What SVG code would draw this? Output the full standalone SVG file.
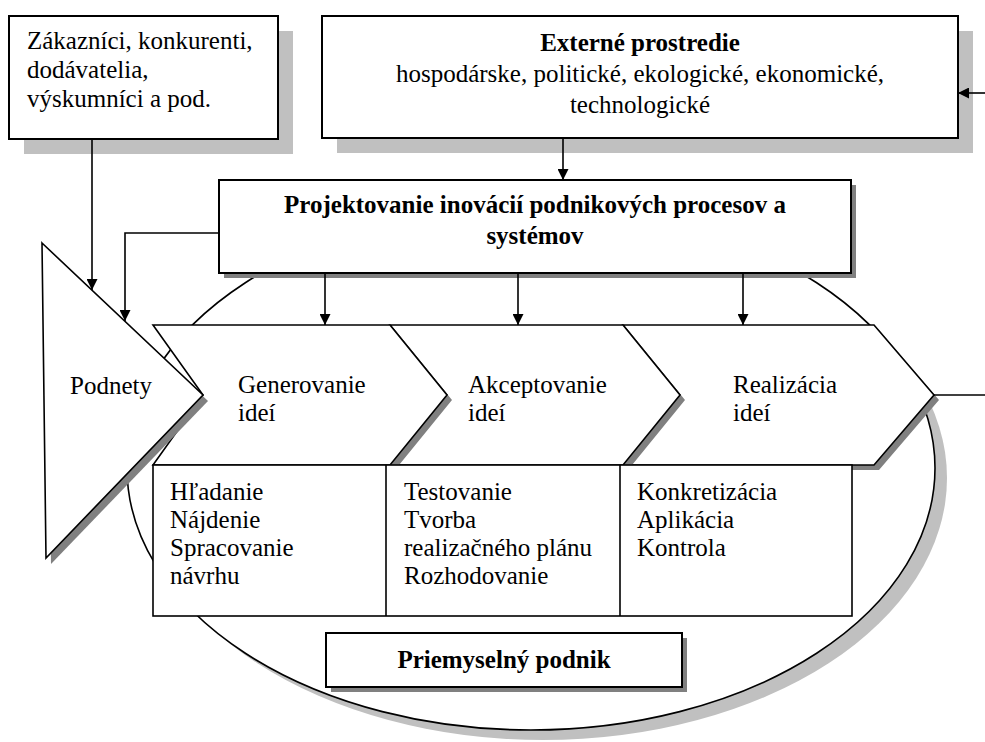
<svg xmlns="http://www.w3.org/2000/svg" width="985" height="742" viewBox="0 0 985 742">
  <style>
    .t { font-family: "Liberation Serif", "Times New Roman", serif; font-size: 25px; fill: #000; }
    .b { font-weight: bold; }
    .box { fill: #fff; stroke: #000; stroke-width: 2; }
    .thin { fill: #fff; stroke: #000; stroke-width: 1.6; }
    .shl { fill: #c0c0c0; }
    .shd { fill: #808080; }
    .ln { fill: none; stroke: #000; stroke-width: 1.6; }
  </style>
  <defs>
    <marker id="arr" viewBox="0 0 10 10" refX="10" refY="5" markerWidth="11" markerHeight="11" markerUnits="userSpaceOnUse" orient="auto">
      <path d="M0,0 L10,5 L0,10 z" fill="#000"/>
    </marker>
  </defs>
  <rect width="985" height="742" fill="#fff"/>

  <!-- source actors -->
  <g id="zakaznici">
    <rect class="shl" x="24" y="31" width="269" height="123"/>
    <rect class="box" x="9" y="16" width="269" height="123"/>
    <text class="t" x="27" y="49">Zákazníci, konkurenti,</text>
    <text class="t" x="27" y="78">dodávatelia,</text>
    <text class="t" x="27" y="107">výskumníci a pod.</text>
  </g>

  <!-- external environment -->
  <g id="externe">
    <rect class="shl" x="337" y="31" width="636" height="122"/>
    <rect class="box" x="322" y="16" width="636" height="122"/>
    <text class="t b" x="640" y="51" text-anchor="middle">Externé prostredie</text>
    <text class="t" x="640" y="82" text-anchor="middle">hospodárske, politické, ekologické, ekonomické,</text>
    <text class="t" x="640" y="113" text-anchor="middle">technologické</text>
  </g>

  <!-- enterprise ellipse -->
  <g id="podnik-elipsa">
    <ellipse class="shl" cx="543" cy="478" rx="404" ry="262"/>
    <ellipse cx="531" cy="468" rx="404" ry="262" fill="#fff" stroke="#000" stroke-width="1.6"/>
  </g>

  <!-- design of innovations -->
  <g id="projektovanie">
    <rect class="shd" x="224" y="185" width="632" height="93"/>
    <rect class="box" x="219" y="180" width="632" height="93"/>
    <text class="t b" x="535" y="213" text-anchor="middle">Projektovanie inovácií podnikových procesov a</text>
    <text class="t b" x="535" y="244" text-anchor="middle">systémov</text>
  </g>

  <!-- process chevrons, drawn right to left so each shadow lies on the next one -->
  <g id="realizacia">
    <polygon class="shd" points="628,330 879,330 939,400 879,470 628,470 685,400"/>
    <polygon class="thin" points="623,325 874,325 934,395 874,465 623,465 680,395"/>
    <text class="t" x="733" y="393">Realizácia</text>
    <text class="t" x="733" y="421">ideí</text>
  </g>
  <g id="akceptovanie">
    <polygon class="shd" points="395,330 628,330 685,400 628,470 395,470 452,400"/>
    <polygon class="thin" points="390,325 623,325 680,395 623,465 390,465 447,395"/>
    <text class="t" x="468" y="393">Akceptovanie</text>
    <text class="t" x="468" y="421">ideí</text>
  </g>
  <g id="generovanie">
    <polygon class="shd" points="158,330 395,330 452,400 395,470 158,470 208,400"/>
    <polygon class="thin" points="153,325 390,325 447,395 390,465 153,465 203,395"/>
    <text class="t" x="238" y="393">Generovanie</text>
    <text class="t" x="238" y="421">ideí</text>
  </g>

  <!-- activity table -->
  <g id="cinnosti">
    <rect class="thin" x="153" y="465" width="699" height="151"/>
    <line class="ln" x1="386" y1="465" x2="386" y2="616"/>
    <line class="ln" x1="620" y1="465" x2="620" y2="616"/>
    <text class="t" x="170" y="500">Hľadanie</text>
    <text class="t" x="170" y="528">Nájdenie</text>
    <text class="t" x="170" y="556">Spracovanie</text>
    <text class="t" x="170" y="584">návrhu</text>
    <text class="t" x="404" y="500">Testovanie</text>
    <text class="t" x="404" y="528">Tvorba</text>
    <text class="t" x="404" y="556">realizačného plánu</text>
    <text class="t" x="404" y="584">Rozhodovanie</text>
    <text class="t" x="637" y="500">Konkretizácia</text>
    <text class="t" x="637" y="528">Aplikácia</text>
    <text class="t" x="637" y="556">Kontrola</text>
  </g>

  <!-- enterprise label -->
  <g id="priemyselny-podnik">
    <rect class="shd" x="331" y="638" width="356" height="54"/>
    <rect class="box" x="326" y="633" width="356" height="54"/>
    <text class="t b" x="504" y="668" text-anchor="middle">Priemyselný podnik</text>
  </g>

  <!-- stimuli -->
  <g id="podnety">
    <polygon class="shd" points="47,249 208,401 51,564"/>
    <polygon class="thin" points="42,243 203,395 46,558"/>
    <text class="t" x="70" y="394">Podnety</text>
  </g>

  <!-- connectors -->
  <g id="connectors">
    <line class="ln" x1="985" y1="93" x2="958" y2="93" marker-end="url(#arr)"/>
    <line class="ln" x1="563" y1="138" x2="563" y2="180" marker-end="url(#arr)"/>
    <line class="ln" x1="92" y1="139" x2="92" y2="290" marker-end="url(#arr)"/>
    <polyline class="ln" points="219,233 125,233 125,321" marker-end="url(#arr)"/>
    <line class="ln" x1="325" y1="273" x2="325" y2="325" marker-end="url(#arr)"/>
    <line class="ln" x1="518" y1="273" x2="518" y2="325" marker-end="url(#arr)"/>
    <line class="ln" x1="743" y1="273" x2="743" y2="325" marker-end="url(#arr)"/>
    <line class="ln" x1="934" y1="395" x2="985" y2="395"/>
  </g>
</svg>
